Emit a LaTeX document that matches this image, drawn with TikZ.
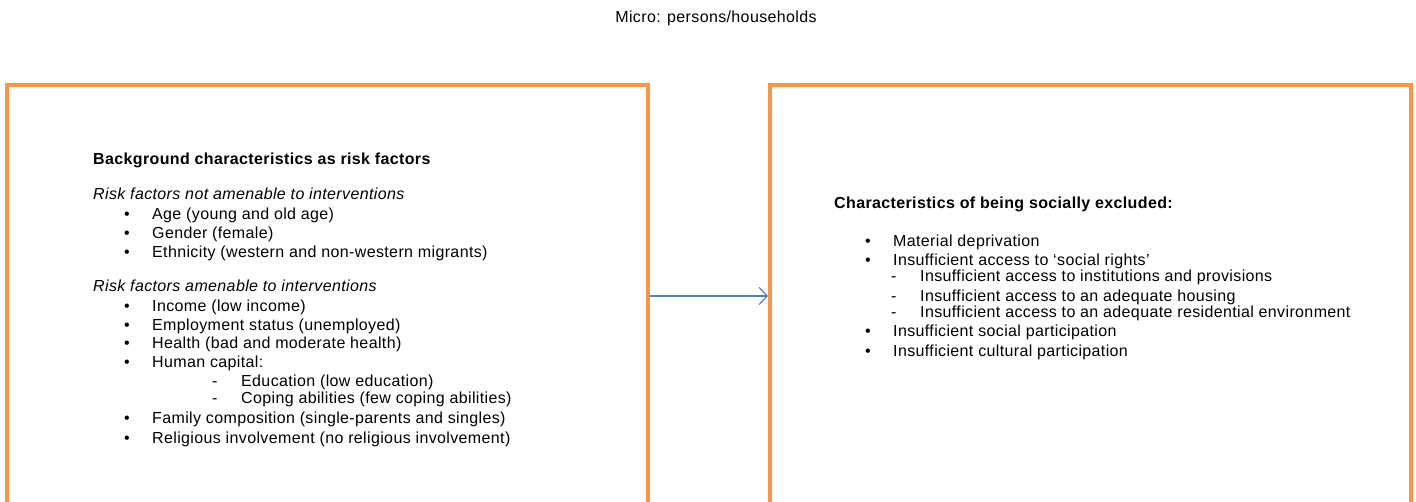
\documentclass[tikz,border=0pt]{standalone}
\usepackage{fontspec}
\setmainfont{Liberation Sans}[LetterSpace=2.3]
\usepackage{xcolor}
\usetikzlibrary{positioning,arrows.meta}
\definecolor{boxorange}{HTML}{F79646}
\definecolor{linkblue}{HTML}{4F81BD}

\begin{document}
\begin{tikzpicture}[
    x=1pt, y=-1pt,
    panel/.style={draw=boxorange, line width=4pt, minimum width=641pt, minimum height=422pt, inner sep=0pt},
    arrow/.style={-{Straight Barb[length=8pt, width=17pt]}, draw=linkblue, line width=1.2pt},
    txt/.style={anchor=base west, inner sep=0pt, font=\fontsize{16}{19}\selectfont},
    head/.style={txt, font=\fontsize{16}{19}\selectfont\bfseries},
    subhead/.style={txt, font=\fontsize{16}{19}\selectfont\itshape},
    bulleted/.style={txt, execute at begin node={\makebox[28pt][l]{\textbullet}}},
    dashitem/.style={txt, execute at begin node={\makebox[29pt][l]{-}}}
]
    \useasboundingbox (0,0) rectangle (1416,502);

    % Title
    \node[txt, anchor=base] (title) at (716,23) {Micro: persons/households};

    % Boxes
    \node[panel] (riskbox) at (327.5,296) {};
    \node[panel, right=118pt of riskbox] (exclbox) {};

    % Left box: risk factors
    \node[head] (riskhead) at (93,165) {Background characteristics as risk factors};
    \node[subhead] (nothead) at (93,200) {Risk factors not amenable to interventions};
    \node[bulleted] (age) at (124,220) {Age (young and old age)};
    \node[bulleted] (gender) at (124,239) {Gender (female)};
    \node[bulleted] (ethnicity) at (124,258) {Ethnicity (western and non-western migrants)};
    \node[subhead] (amenhead) at (93,292) {Risk factors amenable to interventions};
    \node[bulleted] (income) at (124,312) {Income (low income)};
    \node[bulleted] (employment) at (124,331) {Employment status (unemployed)};
    \node[bulleted] (health) at (124,349) {Health (bad and moderate health)};
    \node[bulleted] (humancap) at (124,367) {Human capital:};
    \node[dashitem] (education) at (212,386) {Education (low education)};
    \node[dashitem] (coping) at (212,403) {Coping abilities (few coping abilities)};
    \node[bulleted] (family) at (124,423) {Family composition (single-parents and singles)};
    \node[bulleted] (religion) at (124,443) {Religious involvement (no religious involvement)};

    % Right box: social exclusion
    \node[head] (exclhead) at (834,209) {Characteristics of being socially excluded:};
    \node[bulleted] (material) at (865,247) {Material deprivation};
    \node[bulleted] (rights) at (865,266) {Insufficient access to `social rights'};
    \node[dashitem] (institutions) at (891,282) {Insufficient access to institutions and provisions};
    \node[dashitem] (housing) at (891,302) {Insufficient access to an adequate housing};
    \node[dashitem] (residential) at (891,318) {Insufficient access to an adequate residential environment};
    \node[bulleted] (socialpart) at (865,337) {Insufficient social participation};
    \node[bulleted] (culturalpart) at (865,357) {Insufficient cultural participation};

    % Connection
    \draw[arrow] (riskbox) -- (exclbox);
\end{tikzpicture}
\end{document}
